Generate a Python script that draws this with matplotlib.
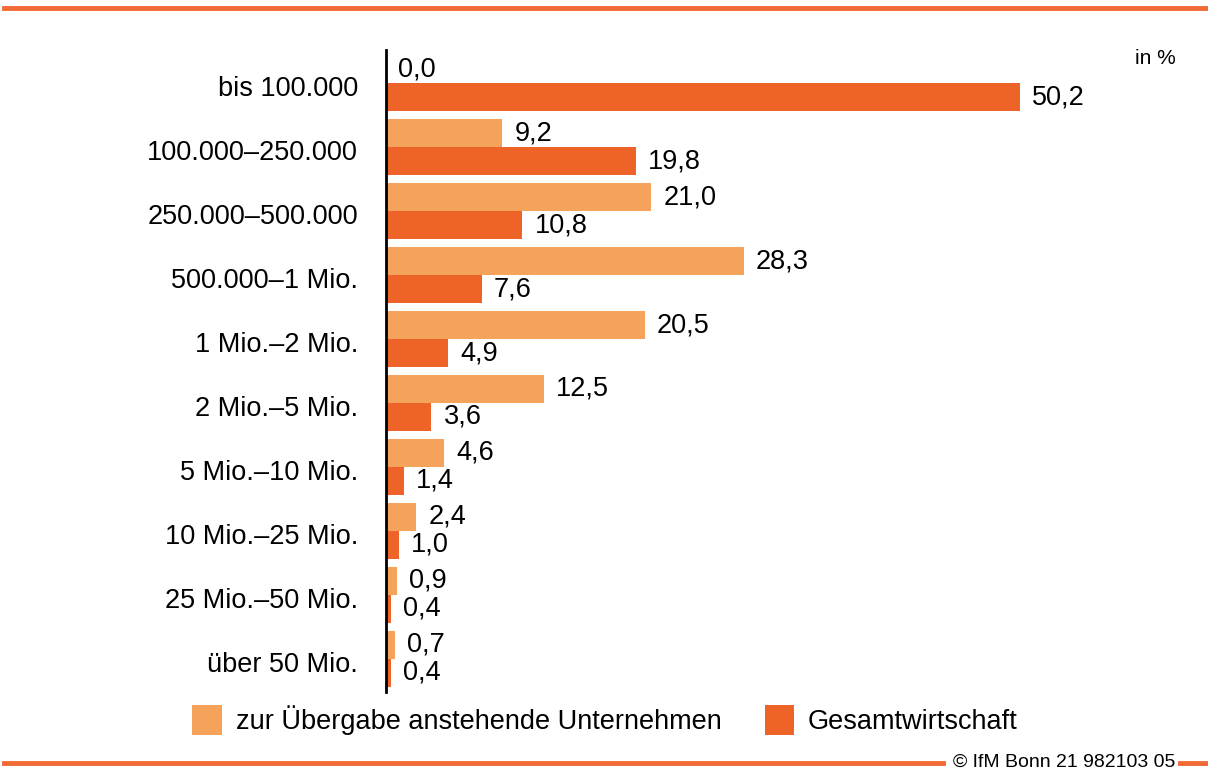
import matplotlib
matplotlib.use("Agg")
import matplotlib.pyplot as plt
import numpy as np

plt.rcParams['font.family'] = ['Liberation Sans', 'DejaVu Sans']

categories = ["bis 100.000", "100.000–250.000", "250.000–500.000", "500.000–1 Mio.",
              "1 Mio.–2 Mio.", "2 Mio.–5 Mio.", "5 Mio.–10 Mio.", "10 Mio.–25 Mio.",
              "25 Mio.–50 Mio.", "über 50 Mio."]
uebergabe = [0.0, 9.2, 21.0, 28.3, 20.5, 12.5, 4.6, 2.4, 0.9, 0.7]
gesamt = [50.2, 19.8, 10.8, 7.6, 4.9, 3.6, 1.4, 1.0, 0.4, 0.4]
series_names = ["zur Übergabe anstehende Unternehmen", "Gesamtwirtschaft"]

c_light = "#F5A25A"
c_dark = "#EE6328"
c_line = "#F26A36"

W, H = 1208, 771
fig = plt.figure(figsize=(W/100, H/100), dpi=100)

# axes in pixel coordinates
left, right, top, bottom = 386, 1119, 50, 692
ax = fig.add_axes([left/W, 1-bottom/H, (right-left)/W, (bottom-top)/H])

y = np.arange(len(categories))
bh = 0.4375
ax.barh(y - bh/2, uebergabe, height=bh, color=c_light, label=series_names[0])
ax.barh(y + bh/2, gesamt, height=bh, color=c_dark, label=series_names[1])

ax.set_xlim(0, 58)
ax.set_ylim(9.52, -0.52)

fs = 19.5
for i, (a, b) in enumerate(zip(uebergabe, gesamt)):
    ax.annotate(f"{a:.1f}".replace(".", ","), (a, i - bh/2), xytext=(12, 0),
                textcoords="offset pixels", va="center", ha="left", fontsize=fs)
    ax.annotate(f"{b:.1f}".replace(".", ","), (b, i + bh/2), xytext=(12, 0),
                textcoords="offset pixels", va="center", ha="left", fontsize=fs)

ax.set_yticks(y + 0.05)
ax.set_yticklabels(categories, fontsize=fs)
ax.tick_params(axis='y', length=0, pad=20)
ax.set_xticks([])
for s in ["top", "right", "bottom"]:
    ax.spines[s].set_visible(False)
ax.spines["left"].set_linewidth(2)

fig.text(1135/W, 1-58/H, "in %", fontsize=15, va="center", ha="left")

# legend
leg = fig.legend(loc="center", bbox_to_anchor=(605/W, 1-720/H), ncol=2, frameon=False,
                 fontsize=fs, handlelength=1.1, handleheight=1.3, columnspacing=1.6,
                 handletextpad=0.5)

# decorative lines
fig.add_artist(plt.Line2D([4/W, 1], [1-8/H, 1-8/H], color=c_line, lw=3.5))
fig.add_artist(plt.Line2D([4/W, 943/W], [1-763/H, 1-763/H], color=c_line, lw=3.5))
fig.add_artist(plt.Line2D([1180/W, 1], [1-763/H, 1-763/H], color=c_line, lw=3.5))
fig.text(1175/W, 1-762/H, "© IfM Bonn 21 982103 05", fontsize=14, va="center", ha="right")

fig.savefig("out.png", dpi=100)
